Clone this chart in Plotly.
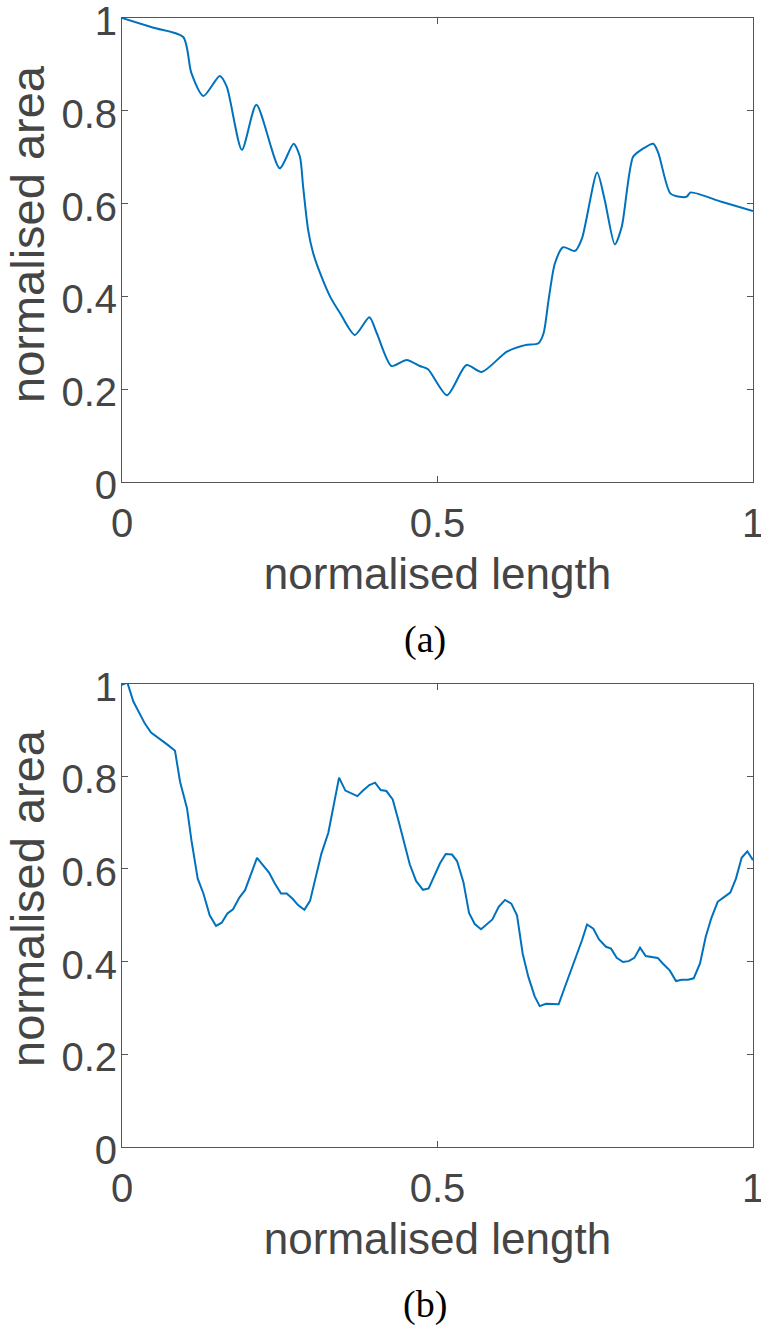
import plotly.graph_objects as go

# ---- data: panel (a), smooth profile ----
xa = [0.000, 0.050, 0.097, 0.110, 0.129, 0.155, 0.166, 0.190, 0.213, 0.250, 0.272,
      0.282, 0.287, 0.295, 0.303, 0.314, 0.330, 0.346, 0.369, 0.392, 0.404,
      0.427, 0.451, 0.472, 0.485, 0.515, 0.546, 0.570, 0.610, 0.639, 0.660,
      0.668, 0.676, 0.686, 0.699, 0.718, 0.729, 0.753, 0.765, 0.781, 0.792,
      0.810, 0.824, 0.842, 0.850, 0.869, 0.887, 0.895, 0.901, 0.950, 1.000]
ya = [1.000, 0.979, 0.959, 0.881, 0.832, 0.875, 0.852, 0.716, 0.813, 0.676, 0.729,
      0.701, 0.637, 0.543, 0.493, 0.450, 0.399, 0.363, 0.317, 0.355, 0.320,
      0.250, 0.263, 0.250, 0.243, 0.187, 0.252, 0.237, 0.281, 0.295, 0.299,
      0.320, 0.392, 0.471, 0.506, 0.498, 0.525, 0.667, 0.608, 0.512, 0.550,
      0.701, 0.717, 0.729, 0.709, 0.622, 0.614, 0.615, 0.624, 0.604, 0.584]

# ---- data: panel (b), piecewise-linear profile ----
xb = [0.000, 0.0085, 0.018, 0.027, 0.036, 0.046, 0.055, 0.064, 0.073, 0.084,
      0.092, 0.103, 0.110, 0.120, 0.129, 0.139, 0.149, 0.158, 0.167, 0.176,
      0.186, 0.195, 0.204, 0.214, 0.224, 0.233, 0.242, 0.252, 0.261, 0.270,
      0.279, 0.289, 0.298, 0.307, 0.316, 0.327, 0.335, 0.344, 0.354, 0.364,
      0.373, 0.382, 0.392, 0.401, 0.410, 0.419, 0.429, 0.438, 0.447, 0.456,
      0.466, 0.477, 0.486, 0.494, 0.504, 0.513, 0.523, 0.531, 0.541, 0.550,
      0.559, 0.569, 0.578, 0.587, 0.597, 0.607, 0.617, 0.626, 0.635, 0.644,
      0.654, 0.662, 0.672, 0.692, 0.701, 0.710, 0.720, 0.729, 0.737, 0.747,
      0.756, 0.767, 0.775, 0.784, 0.794, 0.803, 0.812, 0.821, 0.830, 0.839,
      0.849, 0.857, 0.868, 0.878, 0.887, 0.897, 0.906, 0.916, 0.925, 0.934,
      0.944, 0.953, 0.964, 0.973, 0.982, 0.991, 1.000]
yb = [0.997, 1.002, 0.961, 0.939, 0.914, 0.894, 0.885, 0.878, 0.867, 0.855,
      0.788, 0.731, 0.662, 0.579, 0.547, 0.500, 0.477, 0.484, 0.504, 0.513,
      0.538, 0.554, 0.588, 0.624, 0.607, 0.592, 0.569, 0.547, 0.547, 0.536,
      0.522, 0.512, 0.531, 0.579, 0.633, 0.678, 0.734, 0.797, 0.769, 0.763,
      0.757, 0.769, 0.781, 0.786, 0.770, 0.768, 0.750, 0.705, 0.655, 0.610,
      0.574, 0.555, 0.558, 0.582, 0.612, 0.632, 0.631, 0.617, 0.572, 0.505,
      0.481, 0.470, 0.481, 0.491, 0.518, 0.533, 0.525, 0.500, 0.417, 0.367,
      0.325, 0.304, 0.309, 0.308, 0.342, 0.374, 0.410, 0.446, 0.480, 0.471,
      0.448, 0.432, 0.428, 0.408, 0.399, 0.401, 0.408, 0.430, 0.412, 0.410,
      0.408, 0.396, 0.381, 0.358, 0.361, 0.361, 0.364, 0.396, 0.453, 0.494,
      0.529, 0.538, 0.549, 0.579, 0.624, 0.638, 0.619]

x_ticks = [0, 0.5, 1]
x_tick_text = ["0", "0.5", "1"]
y_ticks = [0, 0.2, 0.4, 0.6, 0.8, 1]
y_tick_text = ["0", "0.2", "0.4", "0.6", "0.8", "1"]
x_title = "normalised length"
y_title = "normalised area"
captions = ["(a)", "(b)"]

W, H = 761, 1329
LINE = "#0072BD"
AX = "#555555"
TXT = "#454545"
SANS = "Liberation Sans, Arial, sans-serif"

def px_x(p):
    return p / W

def px_y(p):
    return 1 - p / H

fig = go.Figure()
fig.add_trace(go.Scatter(x=xa, y=ya, mode="lines", xaxis="x", yaxis="y",
                         line=dict(color=LINE, width=2, shape="spline", smoothing=0.7),
                         showlegend=False))
fig.add_trace(go.Scatter(x=xb, y=yb, mode="lines", xaxis="x2", yaxis="y2",
                         line=dict(color=LINE, width=2),
                         showlegend=False))

xdom = [px_x(122), px_x(753)]
ydom_top = [px_y(482), px_y(18)]
ydom_bot = [px_y(1147), px_y(683.5)]

def xaxis(anchor):
    return dict(domain=xdom, anchor=anchor, range=[0, 1], tickvals=x_ticks,
                ticktext=x_tick_text, ticks="inside", ticklen=6, tickcolor=AX,
                showline=True, linecolor=AX, linewidth=1, mirror="ticks",
                showgrid=False, zeroline=False, ticklabelstandoff=6,
                automargin=False, ticklabeloverflow="allow",
                tickfont=dict(family=SANS, size=40, color=TXT),
                title=dict(text=x_title, standoff=14,
                           font=dict(family=SANS, size=44, color=TXT)))

def yaxis(anchor, dom):
    return dict(domain=dom, anchor=anchor, range=[0, 1], tickvals=y_ticks,
                ticktext=y_tick_text, ticks="inside", ticklen=6, tickcolor=AX,
                showline=True, linecolor=AX, linewidth=1, mirror="ticks",
                showgrid=False, zeroline=False, ticklabelstandoff=-4,
                ticklabelshift=3,
                automargin=False, ticklabeloverflow="allow",
                tickfont=dict(family=SANS, size=40, color=TXT))

fig.update_layout(
    width=W, height=H,
    margin=dict(l=0, r=0, t=0, b=0),
    paper_bgcolor="white", plot_bgcolor="white",
    xaxis=xaxis("y"), yaxis=yaxis("x", ydom_top),
    xaxis2=xaxis("y2"), yaxis2=yaxis("x2", ydom_bot),
)

# y-axis titles (rotated), placed as in the reference
for ypx in [234, 898]:
    fig.add_annotation(text=y_title, xref="paper", yref="paper",
                       x=px_x(27), y=px_y(ypx), xanchor="center", yanchor="middle",
                       textangle=-90, showarrow=False,
                       font=dict(family=SANS, size=47, color=TXT))

for cap, ypx in zip(captions, [640, 1304]):
    fig.add_annotation(text=cap, xref="paper", yref="paper",
                       x=px_x(425), y=px_y(ypx), xanchor="center", yanchor="middle",
                       showarrow=False,
                       font=dict(family="Liberation Serif, Times New Roman, serif",
                                 size=38, color="black"))

fig.write_html("out.html",
               config={"displayModeBar": False},
               post_script="document.body.style.margin='0';")
